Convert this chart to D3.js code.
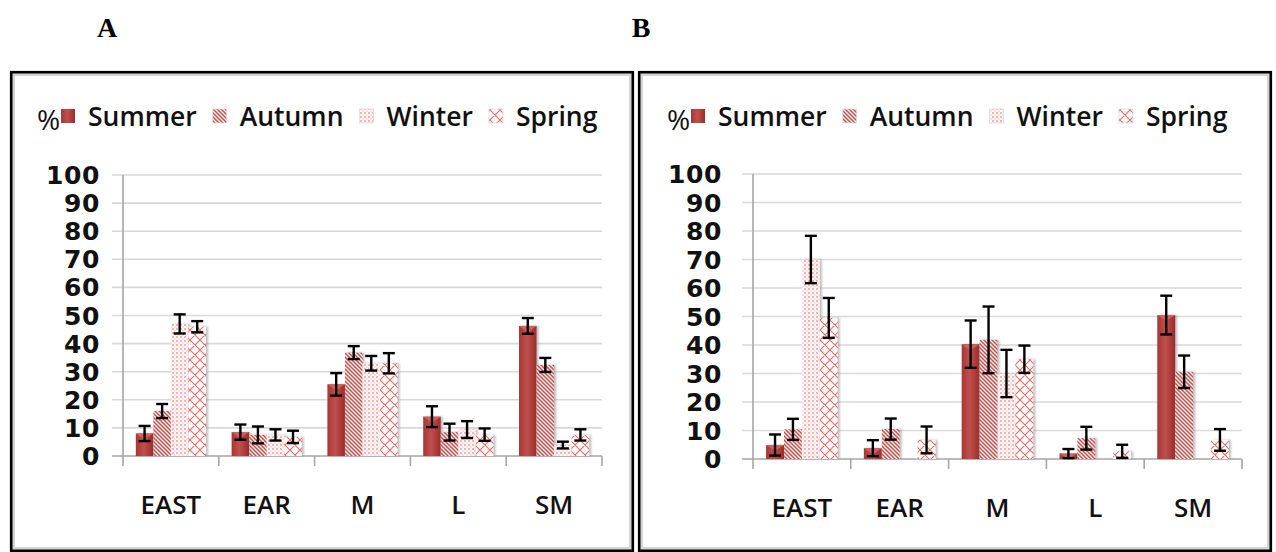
<!DOCTYPE html>
<html>
<head>
<meta charset="utf-8">
<script src="https://cdn.jsdelivr.net/npm/d3@7"></script>
<style>
  body { margin: 0; background: #fff; }
  svg { display: block; }
</style>
</head>
<body>
<svg id="chart" width="1276" height="552"></svg>
<script>
// categories and series
const categories = ["EAST", "EAR", "M", "L", "SM"];
const seasons = ["Summer", "Autumn", "Winter", "Spring"];
const yTicks = [0, 10, 20, 30, 40, 50, 60, 70, 80, 90, 100];

// panel A
const aSummer = [8, 8.5, 25.5, 14, 46.3];
const aAutumn = [16, 7.5, 36.8, 8.5, 32.4];
const aWinter = [47, 7.5, 33, 9.4, 3.9];
const aSpring = [46, 6.8, 33, 7.6, 7.5];
const aSummerErr = [2.7, 2.7, 4, 3.7, 2.8];
const aAutumnErr = [2.5, 3, 2.3, 3, 2.5];
const aWinterErr = [3.4, 2, 2.6, 3, 1.2];
const aSpringErr = [2, 2.2, 3.6, 2.2, 2];

// panel B
const bSummer = [4.9, 3.8, 40.3, 1.9, 50.5];
const bAutumn = [10.4, 10.5, 41.8, 7.3, 30.6];
const bWinter = [70, 0, 30, 0, 0];
const bSpring = [49.5, 6.7, 35, 2.7, 6.7];
const bSummerErr = [3.7, 2.8, 8.3, 1.6, 6.8];
const bAutumnErr = [3.7, 3.7, 11.7, 4, 5.7];
const bWinterErr = [8.3, 0, 8.3, 0, 0];
const bSpringErr = [7, 4.7, 4.8, 2.3, 3.8];

const panels = [
    { letter: "A", letterX: 107, frame: [10, 71, 624, 481], left: 123, right: 602, top: 175, bottom: 456, labelRight: 100,
      values: [aSummer, aAutumn, aWinter, aSpring], errs: [aSummerErr, aAutumnErr, aWinterErr, aSpringErr] },
    { letter: "B", letterX: 641, frame: [638, 71, 634, 481], left: 753, right: 1242, top: 174, bottom: 459, labelRight: 722,
      values: [bSummer, bAutumn, bWinter, bSpring], errs: [bSummerErr, bAutumnErr, bWinterErr, bSpringErr] }
];

const svg = d3.select("#chart");
const defs = svg.append("defs");

// summer: shaded solid red
const grad = defs.append("linearGradient").attr("id", "summerFill").attr("x1", 0).attr("x2", 1).attr("y1", 0).attr("y2", 0);
grad.append("stop").attr("offset", "0%").attr("stop-color", "#a83633");
grad.append("stop").attr("offset", "45%").attr("stop-color", "#c0504d");
grad.append("stop").attr("offset", "100%").attr("stop-color", "#9a2c2a");

// autumn: dense diagonal stripes
const pAut = defs.append("pattern").attr("id", "autumnFill").attr("patternUnits", "userSpaceOnUse")
    .attr("width", 4).attr("height", 4);
pAut.append("rect").attr("width", 4).attr("height", 4).attr("fill", "#fbeaea");
pAut.append("path").attr("d", "M-1,-1 L5,5 M-1,3 L1,5 M3,-1 L5,1").attr("stroke", "#c4504d").attr("stroke-width", 1.4);

// winter: dots
const pWin = defs.append("pattern").attr("id", "winterFill").attr("patternUnits", "userSpaceOnUse")
    .attr("width", 4).attr("height", 4);
pWin.append("rect").attr("width", 4).attr("height", 4).attr("fill", "#fff7f7");
pWin.append("circle").attr("cx", 1).attr("cy", 1).attr("r", 0.9).attr("fill", "#e49a98");
pWin.append("circle").attr("cx", 3).attr("cy", 3).attr("r", 0.7).attr("fill", "#efbdbc");

// spring: lattice of crossing diagonals
const pSpr = defs.append("pattern").attr("id", "springFill").attr("patternUnits", "userSpaceOnUse")
    .attr("width", 10).attr("height", 10);
pSpr.append("rect").attr("width", 10).attr("height", 10).attr("fill", "#fffafa");
pSpr.append("path").attr("d", "M-1,11 L11,-1 M-1,1 L1,-1 M9,11 L11,9 M-1,-1 L11,11 M-1,9 L1,11 M9,-1 L11,1")
    .attr("stroke", "#d9706d").attr("stroke-width", 1.1);

const shadow = defs.append("filter").attr("id", "shadow").attr("x", "-20%").attr("width", "150%");
shadow.append("feDropShadow").attr("dx", 2).attr("dy", 0).attr("stdDeviation", 1)
    .attr("flood-color", "#888").attr("flood-opacity", 0.55);

const fills = ["url(#summerFill)", "url(#autumnFill)", "url(#winterFill)", "url(#springFill)"];

panels.forEach(p => {
    const g = svg.append("g");

    // panel letter
    svg.append("text").attr("x", p.letterX).attr("y", 37).attr("text-anchor", "middle")
        .style("font-family", "'Liberation Serif', serif").style("font-weight", "bold").style("font-size", "28px")
        .text(p.letter);

    // frame
    const [fx, fy, fw, fh] = p.frame;
    g.append("rect").attr("x", fx + 3.5).attr("y", fy + 3.5).attr("width", fw - 7).attr("height", fh - 7)
        .attr("fill", "none").attr("stroke", "#d4d4d4").attr("stroke-width", 3);
    g.append("rect").attr("x", fx + 1.2).attr("y", fy + 1.2).attr("width", fw - 2.4).attr("height", fh - 2.4)
        .attr("fill", "none").attr("stroke", "#000").attr("stroke-width", 2.6);

    const y = d3.scaleLinear().domain([0, 100]).range([p.bottom, p.top]);
    const x0 = d3.scaleBand().domain(categories).range([p.left, p.right]).padding(0);
    const x1 = d3.scaleBand().domain(seasons).range([0, x0.bandwidth()]).paddingInner(0).paddingOuter(0.73);

    // gridlines + y ticks
    g.selectAll(".grid").data(yTicks).join("line")
        .attr("x1", p.left - 11).attr("x2", p.right)
        .attr("y1", d => y(d)).attr("y2", d => y(d))
        .attr("stroke", d => d === 0 ? "#a6a6a6" : "#d9d9d9").attr("stroke-width", 1.6);
    g.selectAll(".ytl").data(yTicks).join("text")
        .attr("x", p.labelRight).attr("y", d => y(d)).attr("dy", "0.36em").attr("text-anchor", "end")
        .style("font-family", "'DejaVu Sans', sans-serif").style("font-weight", "bold").style("font-size", "25px")
        .style("letter-spacing", "0.6px")
        .attr("fill", "#111").text(d => d);

    // y axis line and category ticks
    g.append("line").attr("x1", p.left).attr("x2", p.left).attr("y1", p.top).attr("y2", p.bottom + 10)
        .attr("stroke", "#a6a6a6").attr("stroke-width", 1.6);
    g.selectAll(".ct").data(categories).join("line")
        .attr("x1", d => x0(d) + x0.bandwidth()).attr("x2", d => x0(d) + x0.bandwidth())
        .attr("y1", p.bottom).attr("y2", p.bottom + 10)
        .attr("stroke", "#a6a6a6").attr("stroke-width", 1.6);

    // bars
    const rows = [];
    categories.forEach((c, ci) => seasons.forEach((s, si) => {
        rows.push({ cat: c, season: s, si: si, v: p.values[si][ci], e: p.errs[si][ci] });
    }));
    const bars = rows.filter(d => d.v > 0);
    g.selectAll(".bar").data(bars).join("rect")
        .attr("x", d => x0(d.cat) + x1(d.season)).attr("width", x1.bandwidth())
        .attr("y", d => y(d.v)).attr("height", d => y(0) - y(d.v))
        .attr("fill", d => fills[d.si]).attr("filter", "url(#shadow)");
    // lighter top face of summer bars
    g.selectAll(".cap3d").data(bars.filter(d => d.si === 0)).join("path")
        .attr("d", d => {
            const xl = x0(d.cat) + x1(d.season), xr = xl + x1.bandwidth(), yt = y(d.v);
            const h = Math.min(6, y(0) - yt);
            return `M${xl},${yt} L${xr},${yt} L${(xl + xr) / 2},${yt + h} Z`;
        })
        .attr("fill", "#d0615e");

    // error bars
    const errs = rows.filter(d => d.e > 0);
    const cx = d => x0(d.cat) + x1(d.season) + x1.bandwidth() / 2;
    const eb = g.selectAll(".err").data(errs).join("g").attr("stroke", "#000").attr("stroke-width", 2.4);
    eb.append("line").attr("x1", cx).attr("x2", cx).attr("y1", d => y(d.v + d.e)).attr("y2", d => y(d.v - d.e));
    eb.append("line").attr("x1", d => cx(d) - 6).attr("x2", d => cx(d) + 6).attr("y1", d => y(d.v + d.e)).attr("y2", d => y(d.v + d.e));
    eb.append("line").attr("x1", d => cx(d) - 6).attr("x2", d => cx(d) + 6).attr("y1", d => y(d.v - d.e)).attr("y2", d => y(d.v - d.e));

    // category labels
    g.selectAll(".cat").data(categories).join("text")
        .attr("x", d => x0(d) + x0.bandwidth() / 2).attr("y", p.bottom + 49).attr("dy", "0.35em")
        .attr("text-anchor", "middle")
        .style("font-family", "'Open Sans', sans-serif").style("font-weight", 600).style("font-size", "26px")
        .attr("fill", "#111").text(d => d);

    // legend
    const ly = 116;
    g.append("text").attr("x", p.left - 86).attr("y", ly + 14)
        .style("font-family", "'Open Sans', sans-serif").style("font-size", "28px").attr("fill", "#111").text("%");
    let lx = p.left - 62;
    seasons.forEach((s, si) => {
        g.append("rect").attr("x", lx).attr("y", ly - 7).attr("width", 14).attr("height", 14)
            .attr("fill", fills[si]).attr("stroke", si === 0 ? "none" : "#ddd").attr("stroke-width", 0.8);
        const t = g.append("text").attr("x", lx + 27).attr("y", ly).attr("dy", "0.36em")
            .style("font-family", "'Open Sans', sans-serif").style("font-weight", 600).style("font-size", "26.5px")
            .attr("fill", "#111").text(s);
        lx += 27 + t.node().getComputedTextLength() + 16;
    });
});
</script>
</body>
</html>
